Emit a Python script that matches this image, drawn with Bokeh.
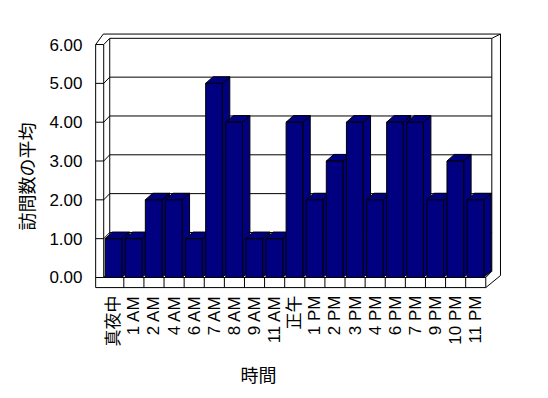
import math
from bokeh.plotting import figure
from bokeh.models import FixedTicker, NumeralTickFormatter, Title, Range1d
from bokeh.embed import file_html
from bokeh.resources import INLINE

# ---- data ----
categories = ["真夜中", "1 AM", "2 AM", "4 AM", "6 AM", "7 AM", "8 AM", "9 AM", "11 AM",
              "正午", "1 PM", "2 PM", "3 PM", "4 PM", "6 PM", "7 PM", "9 PM", "10 PM", "11 PM"]
values = [1, 1, 2, 2, 1, 5, 4, 1, 1, 4, 2, 3, 4, 2, 4, 4, 2, 3, 2]
y_ticks = [0, 1, 2, 3, 4, 5, 6]
y_title = "訪問数の平均"
x_title = "時間"

N = len(categories)
YMAX = y_ticks[-1]

# ---- pseudo-3D projection constants (data units) ----
DX, DY = 0.30, 0.16      # depth of back wall
BX, BY = 0.37, 0.17      # bar depth
WALL = 0.40              # left wall thickness
FLOOR = 0.26             # floor thickness
OX, OY = 0.38, 0.27      # outer top offset
RX, RY = N + 0.73, 0.05  # outer right-bottom corner
BAR_L, BAR_R = 0.07, 0.90

NAVY = "#000080"
LATIN = "Liberation Sans"
CJK = "Noto Sans CJK JP"

p = figure(width=548, height=398,
           x_range=Range1d(-0.756, 19.98), y_range=Range1d(-0.335, 6.413),
           output_backend="svg", toolbar_location=None,
           min_border_left=88, min_border_right=43, min_border_top=28, min_border_bottom=108)
p.outline_line_color = None
p.xgrid.visible = False
p.ygrid.visible = False
p.background_fill_color = "white"
p.border_fill_color = "white"

# ---- box (walls and floor) ----
sil_x = [-WALL, -WALL, -WALL + OX, RX, RX, N]
sil_y = [-FLOOR, YMAX, YMAX + OY, YMAX + OY, RY, -FLOOR]
p.patch(sil_x, sil_y, fill_color="white", line_color="black", line_width=1)

lines_x, lines_y = [], []
# back wall inner face
lines_x.append([DX, N + DX, N + DX, DX, DX])
lines_y.append([DY, DY, YMAX + DY, YMAX + DY, DY])
# gridlines on back wall
for k in y_ticks[1:-1]:
    lines_x.append([DX, N + DX])
    lines_y.append([k + DY, k + DY])
# left wall: inner front edge, crossbars and diagonals
lines_x.append([0, 0])
lines_y.append([0, YMAX])
for k in y_ticks:
    lines_x.append([-WALL, 0, DX])
    lines_y.append([k, k, k + DY])
# floor front top edge and right edges
lines_x.append([0, N, N])
lines_y.append([0, 0, -FLOOR])
lines_x.append([N, N + DX])
lines_y.append([0, DY])
# category dividers on floor front
for i in range(1, N):
    lines_x.append([i, i])
    lines_y.append([-FLOOR, 0])
# back wall top slab right diagonal
lines_x.append([N + DX, RX])
lines_y.append([YMAX + DY, YMAX + OY])
p.multi_line(lines_x, lines_y, line_color="black", line_width=1)

# ---- bars ----
side_xs, side_ys, top_xs, top_ys = [], [], [], []
for i, v in enumerate(values):
    l, r = i + BAR_L, i + BAR_R
    side_xs.append([r, r + BX, r + BX, r])
    side_ys.append([0, BY, v + BY, v])
    top_xs.append([l, r, r + BX, l + BX])
    top_ys.append([v, v, v + BY, v + BY])
p.patches(side_xs, side_ys, fill_color=NAVY, line_color="black", line_width=1)
p.patches(top_xs, top_ys, fill_color=NAVY, line_color="black", line_width=1)
p.quad(left=[i + BAR_L for i in range(N)], right=[i + BAR_R for i in range(N)],
       bottom=0, top=values, fill_color=NAVY, line_color="black", line_width=1)

# ---- axes ----
p.xaxis.ticker = FixedTicker(ticks=[i + 0.5 for i in range(N)])
p.xaxis.major_label_overrides = {i + 0.5: c for i, c in enumerate(categories)}
p.xaxis.major_label_orientation = math.pi / 2
p.xaxis.major_label_standoff = 5
p.xaxis.major_label_text_font = f"'{LATIN}', '{CJK}'"
p.xaxis.major_label_text_font_size = "17px"
p.xaxis.major_label_text_color = "black"

p.yaxis.ticker = FixedTicker(ticks=y_ticks)
p.yaxis.formatter = NumeralTickFormatter(format="0.00")
p.yaxis.major_label_standoff = 6
p.yaxis.major_label_text_font = LATIN
p.yaxis.major_label_text_font_size = "17px"
p.yaxis.major_label_text_color = "black"

for ax in (p.xaxis, p.yaxis):
    ax.axis_line_color = None
    ax.major_tick_line_color = None
    ax.minor_tick_line_color = None
    ax.major_tick_out = 0
    ax.major_tick_in = 0
    ax.minor_tick_out = 0
    ax.minor_tick_in = 0

# ---- titles ----
p.add_layout(Title(text=x_title, align="left", offset=152, standoff=18,
                   text_font=CJK, text_font_size="18px", text_font_style="normal",
                   text_color="black"), "below")
p.add_layout(Title(text=y_title, align="left", offset=60, standoff=16,
                   text_font=CJK, text_font_size="18px", text_font_style="normal",
                   text_color="black"), "left")

open("out.html", "w").write(file_html(p, INLINE))
